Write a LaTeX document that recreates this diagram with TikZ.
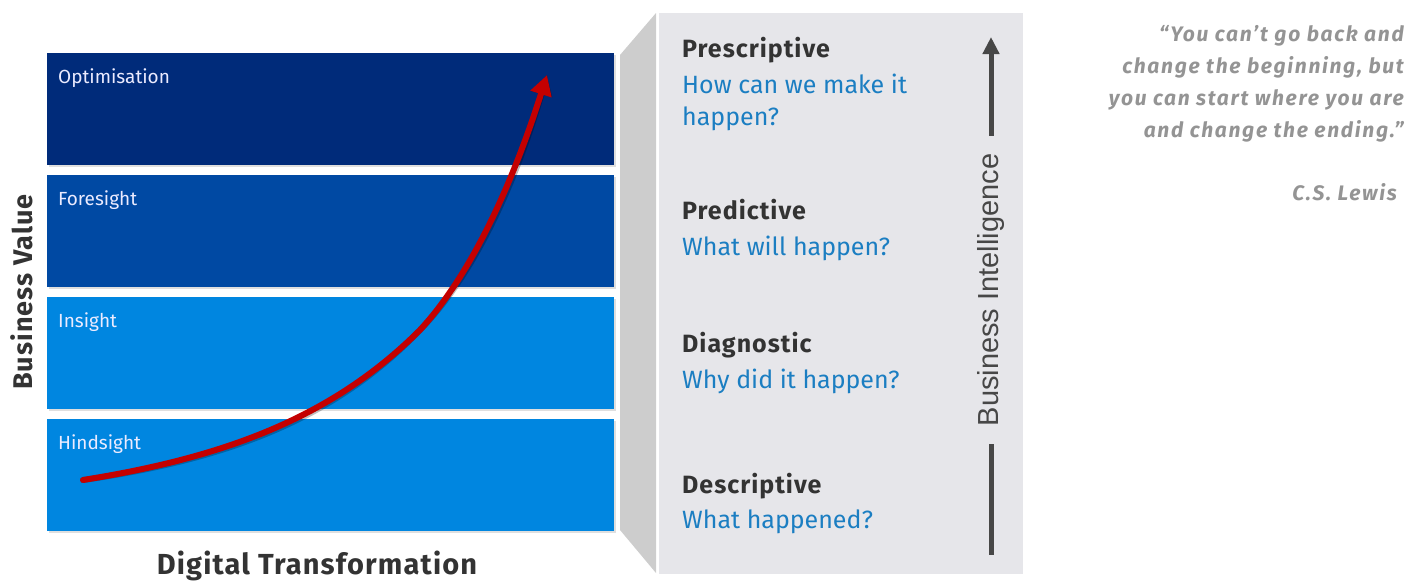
\documentclass[tikz,border=0pt]{standalone}
\usepackage{fontspec}
\setmainfont{Fira Sans}
\newfontfamily\bifont{Liberation Sans}
\newfontfamily\trackfont[LetterSpace=4]{Fira Sans}
\newfontfamily\quotefont[LetterSpace=8]{Fira Sans}
\usetikzlibrary{positioning,arrows.meta,shadows}
\definecolor{optblue}{HTML}{002B7A}
\definecolor{foreblue}{HTML}{0049A3}
\definecolor{insblue}{HTML}{0086E0}
\definecolor{askblue}{HTML}{1B7EC2}
\definecolor{panelgray}{HTML}{E6E6EA}
\definecolor{bevelgray}{HTML}{CDCDCD}
\definecolor{darktext}{HTML}{333333}
\definecolor{quotegray}{HTML}{949494}
\definecolor{curvered}{HTML}{C40000}

\begin{document}
\begin{tikzpicture}[x=1pt,y=-1pt,>=Stealth,
    level/.style={fill=#1,minimum width=567pt,minimum height=112pt,inner sep=0pt,anchor=north west,
        drop shadow={shadow xshift=2pt,shadow yshift=-2pt,opacity=0.25}},
    leveltext/.style={inner sep=0pt,text=white!92!blue,font=\fontsize{19}{21}\selectfont},
    head/.style={inner sep=0pt,anchor=base west,text=darktext,font=\trackfont\fontsize{25}{28}\selectfont\bfseries},
    ask/.style={inner sep=0pt,align=left,text=askblue,font=\fontsize{25}{32}\selectfont},
    axis/.style={inner sep=0pt,text=darktext,font=\trackfont\fontsize{#1}{30}\selectfont\bfseries},
    biline/.style={line width=5pt,draw=black!72},
    quote/.style={inner sep=0pt,align=right,text=quotegray,font=\quotefont\fontsize{21}{32}\selectfont\bfseries\itshape}]
    \useasboundingbox (0,0) rectangle (1421,581);
    \foreach \nm/\col/\txt [count=\i] in {opt/optblue/Optimisation,fore/foreblue/Foresight,ins/insblue/Insight,hind/insblue/Hindsight}
    {
        \node[level=\col] (\nm) at (47,53+122*\i-122) {};
        \node[leveltext,below right=15pt and 11pt of \nm.north west] {\txt};
    }
    \node[axis=27,rotate=90] (value) at (22,292) {Business Value};
    \node[axis=29] (digital) at (317,566) {Digital Transformation};
    \fill[bevelgray] (620,55) -- (656,13) -- (656,573) -- (620,530) -- cycle;
    \node[fill=panelgray,minimum width=364pt,minimum height=561pt,inner sep=0pt,anchor=north west] (panel) at (659,13) {};
    \coordinate (start) at (83,480);
    \coordinate (bend) at (420,330);
    \coordinate (tip) at (547,75);
    \draw[line width=6pt,line cap=round,black,opacity=0.25,-{Triangle[length=20pt,width=21pt]},shift={(2,2)}]
        (start) .. controls (220,458) and (330,420) .. (bend) .. controls (480,265) and (520,160) .. (tip);
    \draw[line width=6pt,line cap=round,curvered,-{Triangle[length=20pt,width=21pt]}]
        (start) .. controls (220,458) and (330,420) .. (bend) .. controls (480,265) and (520,160) .. (tip);
    \foreach \nm/\y/\hd/\q in {pre/57/Prescriptive/{How can we make it\\happen?},
        pred/219/Predictive/{What will happen?},
        diag/352/Diagnostic/{Why did it happen?},
        desc/493/Descriptive/{What happened?}}
    {
        \node[head] (\nm) at (682,\y) {\hd};
        \node[ask,below right=17pt and 0pt of \nm.base west] {\q};
    }
    \node[inner sep=0pt,outer xsep=18pt,rotate=90,text=black!72,font=\bifont\fontsize{29}{32}\selectfont] (bi) at (991,290) {Business Intelligence};
    \coordinate (bitop) at (991,37);
    \coordinate (bibot) at (991,555);
    \draw[biline,-{Triangle[length=17pt,width=16pt]}] (bi) -- (bitop);
    \draw[biline] (bi) -- (bibot);
    \node[quote,anchor=north east] (words) at (1404,25) {“You can’t go back and\\change the beginning, but\\you can start where you are\\and change the ending.”};
    \node[quote,anchor=base east] (author) at (1397,200) {C.S. Lewis};
\end{tikzpicture}
\end{document}
